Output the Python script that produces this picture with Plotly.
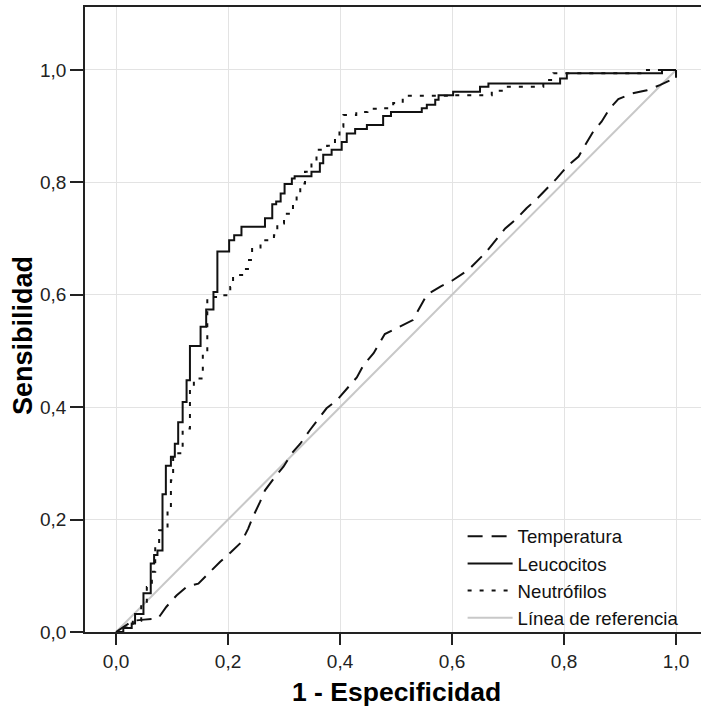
import plotly.graph_objects as go

# ---- data ----
leuc_fpr = [0, 0.013, 0.028, 0.034, 0.049, 0.062, 0.068, 0.074, 0.083, 0.089, 0.098, 0.105,
            0.111, 0.119, 0.126, 0.132, 0.151, 0.161, 0.174, 0.181, 0.202, 0.211, 0.224, 0.266,
            0.279, 0.286, 0.294, 0.301, 0.314, 0.319, 0.349, 0.364, 0.370, 0.385, 0.403, 0.412,
            0.427, 0.448, 0.477, 0.491, 0.546, 0.555, 0.570, 0.576, 0.602, 0.650, 0.665, 0.793,
            0.805, 0.975, 1.0]
leuc_tpr = [0, 0.007, 0.015, 0.032, 0.069, 0.122, 0.137, 0.145, 0.245, 0.296, 0.312, 0.335,
            0.373, 0.409, 0.448, 0.509, 0.543, 0.574, 0.605, 0.677, 0.697, 0.706, 0.721, 0.736,
            0.761, 0.766, 0.780, 0.797, 0.807, 0.811, 0.819, 0.834, 0.849, 0.858, 0.872, 0.887,
            0.895, 0.902, 0.918, 0.925, 0.932, 0.938, 0.947, 0.955, 0.961, 0.970, 0.976, 0.985,
            0.994, 1.0, 1.0]

neut_fpr = [0, 0.013, 0.030, 0.045, 0.055, 0.064, 0.070, 0.077, 0.092, 0.098, 0.102, 0.119,
            0.132, 0.139, 0.155, 0.163, 0.1875, 0.204, 0.209, 0.227, 0.2375, 0.243, 0.258, 0.282,
            0.288, 0.300, 0.316, 0.3225, 0.329, 0.3375, 0.349, 0.358, 0.377, 0.391, 0.399, 0.406,
            0.429, 0.449, 0.477, 0.495, 0.512, 0.596, 0.671, 0.693, 0.763, 0.781, 0.942, 1.0]
neut_tpr = [0, 0.008, 0.020, 0.050, 0.080, 0.107, 0.158, 0.181, 0.220, 0.270, 0.318, 0.362,
            0.433, 0.451, 0.496, 0.596, 0.599, 0.614, 0.635, 0.646, 0.662, 0.684, 0.697, 0.706,
            0.727, 0.744, 0.760, 0.780, 0.798, 0.819, 0.837, 0.858, 0.865, 0.878, 0.899, 0.920,
            0.925, 0.931, 0.932, 0.941, 0.954, 0.955, 0.963, 0.970, 0.982, 0.994, 1.0, 1.0]

temp_fpr = [0, 0.030, 0.050, 0.075, 0.090, 0.108, 0.127, 0.147, 0.168, 0.186, 0.205, 0.224,
            0.236, 0.245, 0.257, 0.266, 0.284, 0.299, 0.314, 0.329, 0.346, 0.360, 0.376, 0.394,
            0.412, 0.430, 0.442, 0.460, 0.480, 0.500, 0.530, 0.555, 0.580, 0.600, 0.630, 0.660,
            0.695, 0.716, 0.733, 0.751, 0.769, 0.787, 0.805, 0.826, 0.8375, 0.852, 0.867, 0.882,
            0.897, 0.921, 0.948, 0.971, 0.990, 1.0, 1.0]
temp_tpr = [0, 0.020, 0.022, 0.024, 0.045, 0.065, 0.081, 0.086, 0.107, 0.125, 0.142, 0.160,
            0.184, 0.206, 0.231, 0.252, 0.276, 0.294, 0.318, 0.335, 0.359, 0.377, 0.398, 0.412,
            0.433, 0.453, 0.475, 0.496, 0.530, 0.540, 0.555, 0.600, 0.615, 0.625, 0.645, 0.675,
            0.718, 0.736, 0.754, 0.770, 0.789, 0.807, 0.828, 0.846, 0.866, 0.890, 0.908, 0.932,
            0.948, 0.958, 0.964, 0.973, 0.982, 0.982, 1.0]

ref_x = [0, 1]
ref_y = [0, 1]

tick_vals = [0, 0.2, 0.4, 0.6, 0.8, 1.0]
tick_text = ["0,0", "0,2", "0,4", "0,6", "0,8", "1,0"]

names = ["Temperatura", "Leucocitos", "Neutrófilos", "Línea de referencia"]
x_title = "1 - Especificidad"
y_title = "Sensibilidad"

FONT = "Liberation Sans, Arial, sans-serif"

fig = go.Figure()
fig.add_trace(go.Scatter(x=ref_x, y=ref_y, mode="lines", name=names[3], legendrank=4,
                         line=dict(color="#c8c8c8", width=2)))
fig.add_trace(go.Scatter(x=temp_fpr, y=temp_tpr, mode="lines", name=names[0], legendrank=1,
                         line=dict(color="#111111", width=2, dash="15px,9px")))
fig.add_trace(go.Scatter(x=leuc_fpr, y=leuc_tpr, mode="lines", name=names[1], legendrank=2,
                         line=dict(color="#111111", width=2, shape="hv")))
fig.add_trace(go.Scatter(x=neut_fpr, y=neut_tpr, mode="lines", name=names[2], legendrank=3,
                         line=dict(color="#111111", width=2, shape="hv", dash="4px,8px")))

axis_common = dict(
    tickmode="array", tickvals=tick_vals, ticktext=tick_text,
    showgrid=True, gridcolor="#e3e3e3", gridwidth=1,
    showline=True, linecolor="#222222", linewidth=1.5,
    ticks="outside", tickcolor="#222222", tickwidth=1.5,
    tickfont=dict(family=FONT, size=19, color="#222222"),
    zeroline=False,
)

fig.update_xaxes(range=[-0.0554, 1.0446], ticklen=11, mirror=True, **axis_common)
fig.update_yaxes(range=[0, 1.112], ticklen=13, **axis_common)

fig.update_layout(
    width=701, height=706,
    margin=dict(l=85, r=0, t=7, b=74),
    paper_bgcolor="white", plot_bgcolor="white",
    font=dict(family=FONT, color="#111111"),
    showlegend=True,
    legend=dict(x=0.613, y=0.183, xanchor="left", yanchor="top",
                bgcolor="rgba(0,0,0,0)", borderwidth=0,
                font=dict(family=FONT, size=18.6, color="#111111"),
                itemwidth=45, tracegroupgap=0),
    annotations=[
        dict(text="<b>" + x_title + "</b>", xref="paper", yref="paper",
             x=0.505, y=-0.096, xanchor="center", yanchor="middle", showarrow=False,
             font=dict(family=FONT, size=26.5, color="#000000")),
        dict(text="<b>" + y_title + "</b>", xref="paper", yref="paper",
             x=-0.1006, y=0.4736, xanchor="center", yanchor="middle", showarrow=False,
             textangle=-90, font=dict(family=FONT, size=27, color="#000000")),
    ],
)

fig.write_html("out.html")
